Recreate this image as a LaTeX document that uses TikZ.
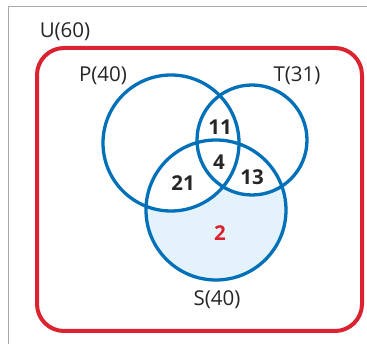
\documentclass[tikz,border=0pt]{standalone}
\usepackage{fontspec}
\setmainfont{Open Sans}
\definecolor{vblue}{RGB}{0,112,185}
\definecolor{vred}{RGB}{218,35,46}
\definecolor{vfill}{RGB}{228,243,251}
\definecolor{frame}{RGB}{170,170,170}
\begin{document}
\begin{tikzpicture}[x=1pt,y=-1pt,
  setline/.style={draw=vblue,line width=3.3pt},
  setlabel/.style={font=\fontsize{20.5}{24}\selectfont,text=black!85,inner sep=0pt},
  count/.style={font=\fontsize{20.5}{24}\selectfont\bfseries,text=black!85,inner sep=0pt}]
  \useasboundingbox (0,0) rectangle (367,344);
  % outer frame
  \draw[frame,line width=1pt] (8.5,344) -- (8.5,6.5) -- (367,6.5);
  % universal set
  \draw[vred,line width=4pt,rounded corners=27pt] (37,48) rectangle (362,331);
  % shaded region: S only
  \fill[vfill] (216,210) circle (70);
  \fill[white] (171,143) circle (68);
  \fill[white] (252,140) circle (55);
  % set outlines
  \draw[setline] (171,143) circle (68);
  \draw[setline] (252,140) circle (55);
  \draw[setline] (216,210) circle (70);
  % labels
  \node[setlabel] (u) at (65,32) {U(60)};
  \node[setlabel] (p) at (103,76) {P(40)};
  \node[setlabel] (t) at (297,76) {T(31)};
  \node[setlabel] (s) at (217,300) {S(40)};
  % region counts
  \node[count] (pt) at (220,127) {11};
  \node[count] (pts) at (219,162) {4};
  \node[count] (ps) at (183,183) {21};
  \node[count] (ts) at (252,177) {13};
  \node[count,text=vred] (so) at (220,233) {2};
\end{tikzpicture}
\end{document}
